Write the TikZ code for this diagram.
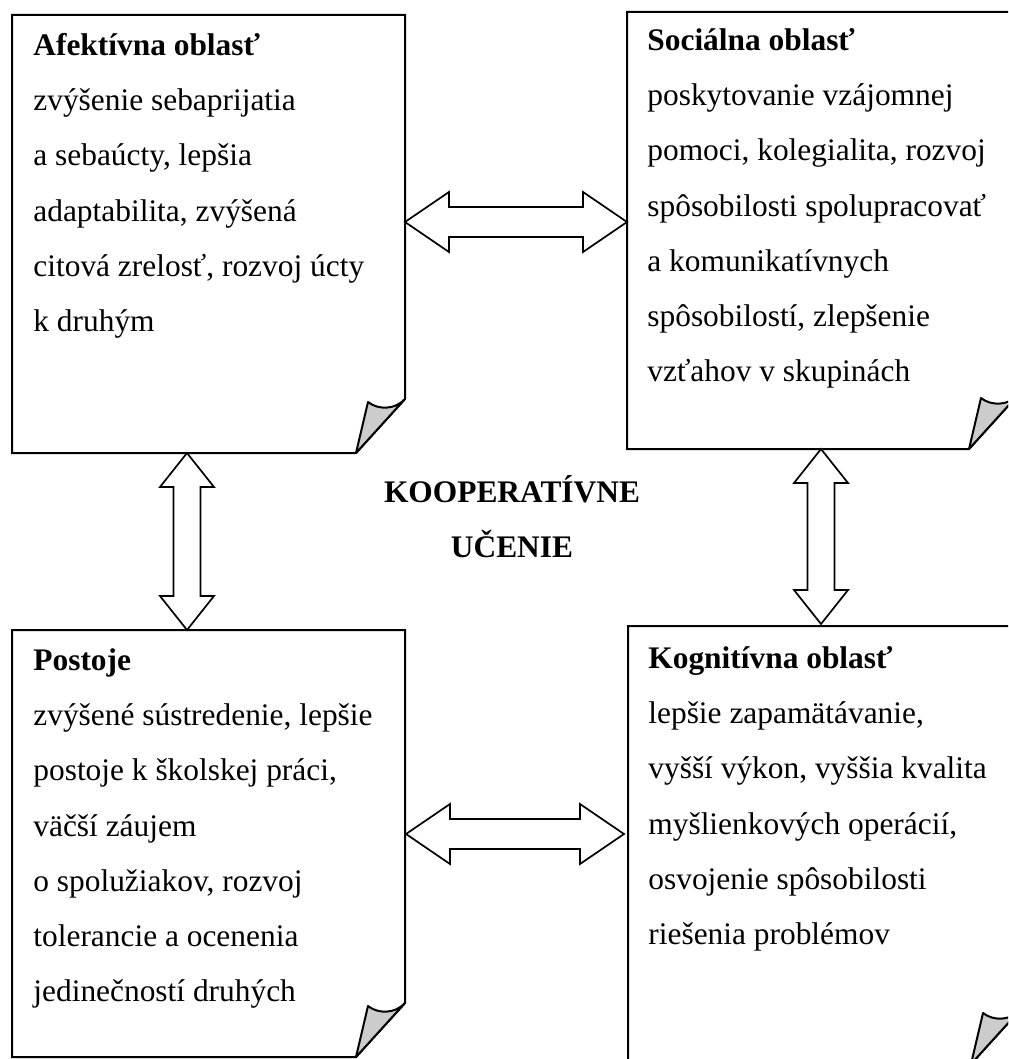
\documentclass[tikz,border=0pt]{standalone}
\usepackage{fontspec}
\setmainfont{Liberation Serif}
\usetikzlibrary{calc}
\newcommand{\foldbox}[5]{% name, left, top, right, bottom
  \coordinate (#1-nw) at (#2,#3);
  \coordinate (#1-se) at (#4,#5);
  \draw[boxline] (#2,#3) -- (#4,#3) -- (#4,#5-54) -- (#4-49,#5) -- (#2,#5) -- cycle;
  \filldraw[curl] (#4,#5-54) .. controls (#4-10,#5-43) and (#4-27,#5-43) .. (#4-37,#5-51) -- (#4-49,#5) -- cycle;
}
\newcommand{\harr}[2]{\draw[arr] let \p1=(#1), \p2=(#2) in
  (\x1,\y1) -- (\x1+22pt,\y1+15pt) -- (\x1+22pt,\y1+7.5pt) -- (\x2-22pt,\y1+7.5pt) -- (\x2-22pt,\y1+15pt)
  -- (\x2,\y2) -- (\x2-22pt,\y1-15pt) -- (\x2-22pt,\y1-7.5pt) -- (\x1+22pt,\y1-7.5pt) -- (\x1+22pt,\y1-15pt) -- cycle;}
\newcommand{\varr}[2]{\draw[arr] let \p1=(#1), \p2=(#2) in
  (\x1,\y1) -- (\x1+13.5pt,\y1-17pt) -- (\x1+6.75pt,\y1-17pt) -- (\x1+6.75pt,\y2+17pt) -- (\x1+13.5pt,\y2+17pt)
  -- (\x2,\y2) -- (\x1-13.5pt,\y2+17pt) -- (\x1-6.75pt,\y2+17pt) -- (\x1-6.75pt,\y1-17pt) -- (\x1-13.5pt,\y1-17pt) -- cycle;}
\begin{document}
\begin{tikzpicture}[x=0.5pt,y=-0.5pt,
  boxline/.style={line width=1pt, fill=white},
  curl/.style={line width=1pt, fill=black!20, line join=round},
  arr/.style={line width=0.85pt, fill=white, line join=miter},
  txt/.style={anchor=north west, inner sep=0pt, align=left, font=\fontsize{15.7}{27.6}\selectfont},
  ctxt/.style={anchor=north, inner sep=0pt, align=center, font=\fontsize{15.7}{27.6}\selectfont\bfseries}
]
\useasboundingbox (0,0) rectangle (1008,1059);
\begin{scope}
\clip (0,0) rectangle (1008,1059);
\fill[white] (0,0) rectangle (1008,1059);

\foldbox{aff}{12}{15}{405}{453}
\foldbox{soc}{627}{12}{1018}{449}
\foldbox{pos}{12}{630}{405}{1057}
\foldbox{kog}{628}{626}{1020}{1064}

\node[txt] (afftxt) at (33,16.4) {\strut\textbf{Afektívna oblasť}\\
zvýšenie sebaprijatia\\
a sebaúcty, lepšia\\
adaptabilita, zvýšená\\
citová zrelosť, rozvoj úcty\\
k druhým};

\node[txt] (soctxt) at (647,11.4) {\strut\textbf{Sociálna oblasť}\\
poskytovanie vzájomnej\\
pomoci, kolegialita, rozvoj\\
spôsobilosti spolupracovať\\
a komunikatívnych\\
spôsobilostí, zlepšenie\\
vzťahov v skupinách};

\node[txt] (postxt) at (33,631.4) {\strut\textbf{Postoje}\\
zvýšené sústredenie, lepšie\\
postoje k školskej práci,\\
väčší záujem\\
o spolužiakov, rozvoj\\
tolerancie a ocenenia\\
jedinečností druhých};

\node[txt] (kogtxt) at (648,629.4) {\strut\textbf{Kognitívna oblasť}\\
lepšie zapamätávanie,\\
vyšší výkon, vyššia kvalita\\
myšlienkových operácií,\\
osvojenie spôsobilosti\\
riešenia problémov};

\node[ctxt] (center) at (512,463.4) {\strut KOOPERATÍVNE\\ UČENIE};

\coordinate (affE) at (405,222);
\coordinate (socW) at (627,222);
\coordinate (posE) at (406,834);
\coordinate (kogW) at (624,834);
\coordinate (affS) at (187,453);
\coordinate (posN) at (187,630);
\coordinate (socS) at (821,449);
\coordinate (kogN) at (821,624);

\harr{affE}{socW}
\harr{posE}{kogW}
\varr{affS}{posN}
\varr{socS}{kogN}
\end{scope}
\end{tikzpicture}
\end{document}
